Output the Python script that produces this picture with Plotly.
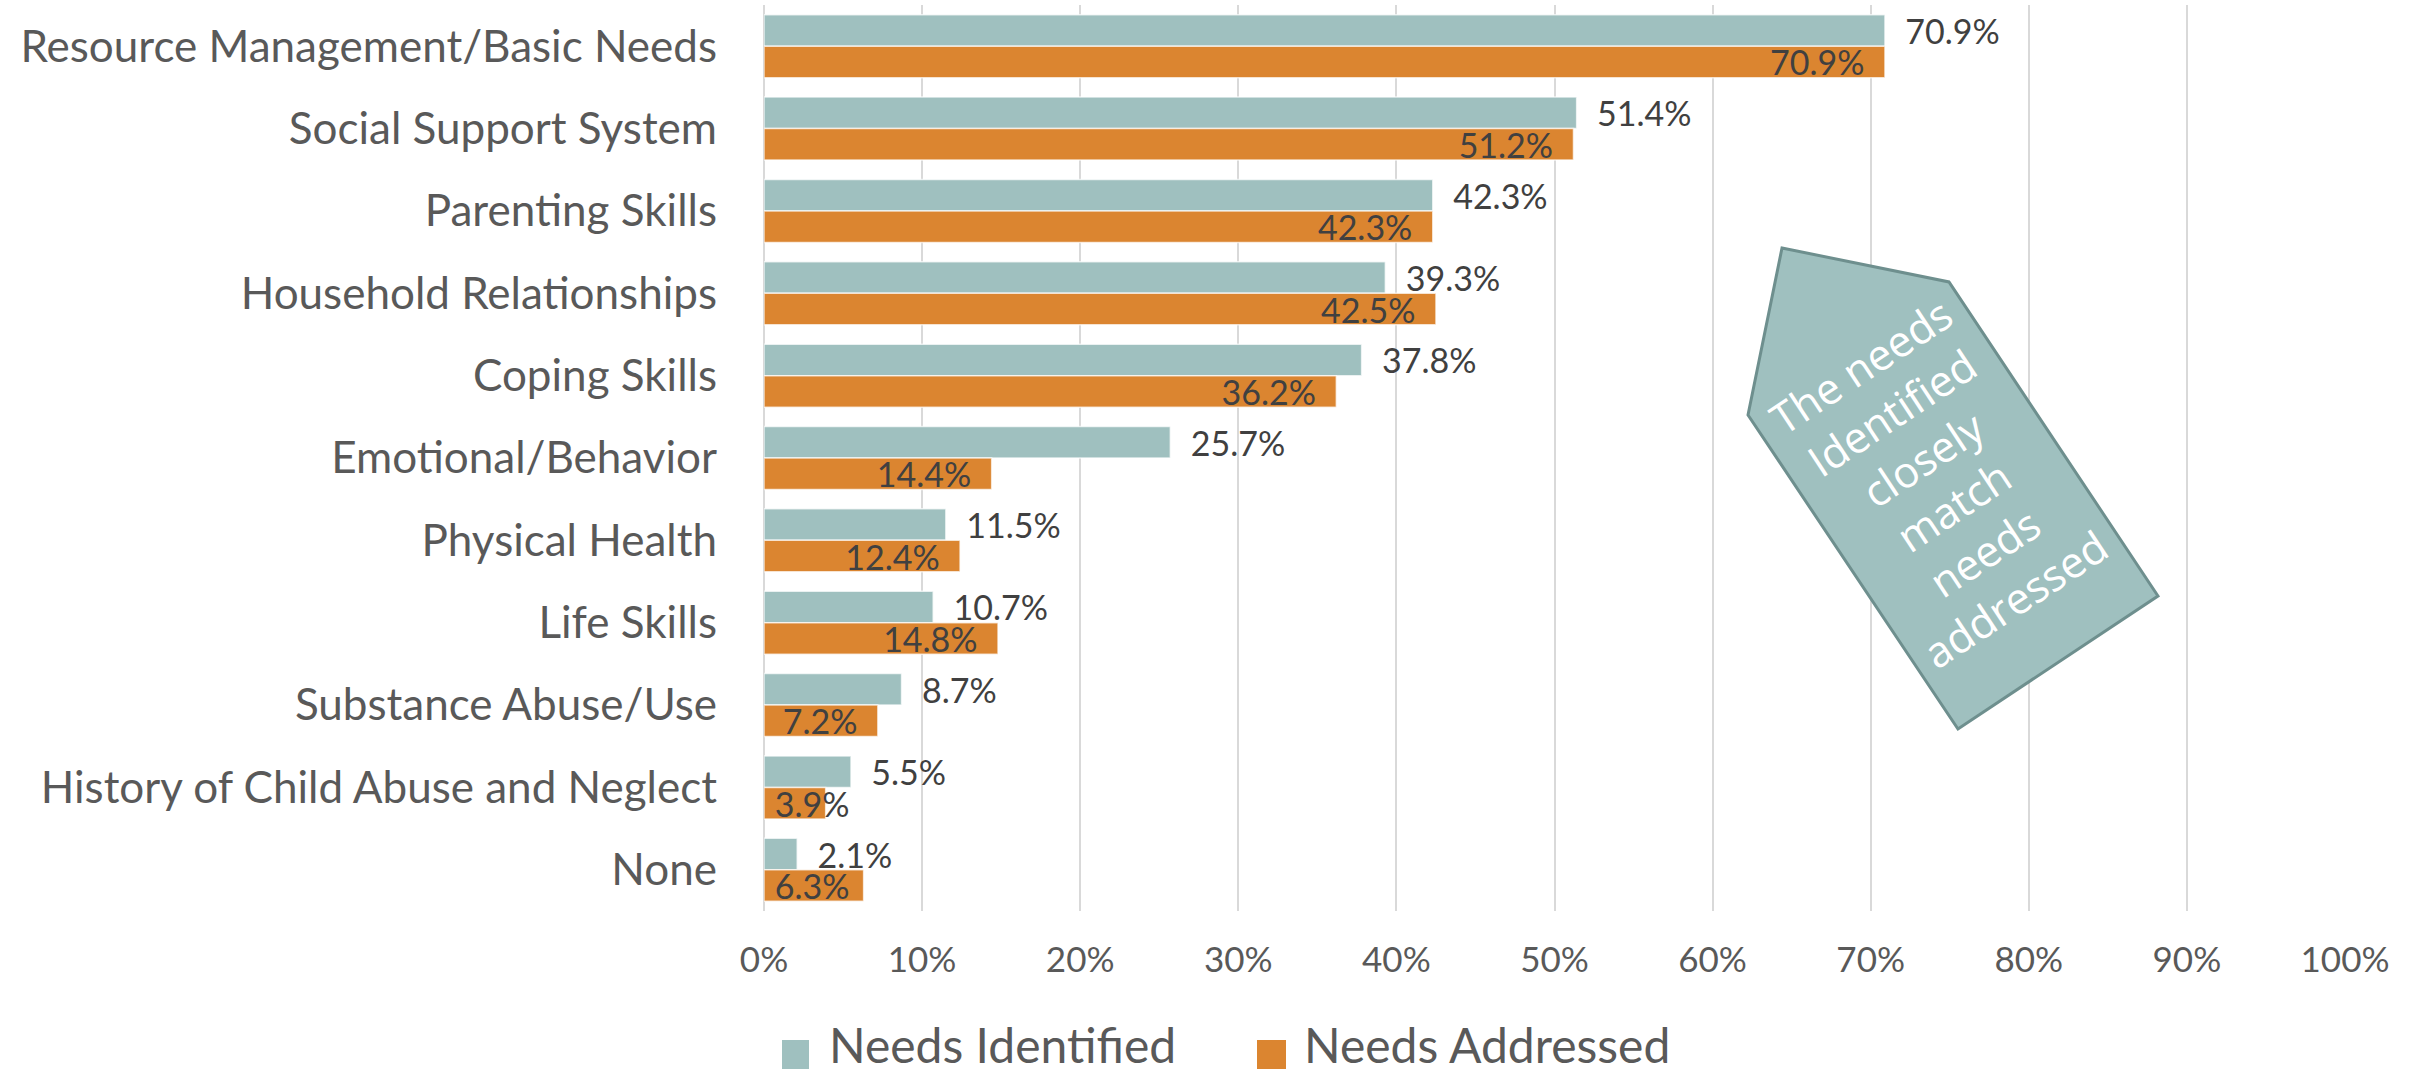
import plotly.graph_objects as go

categories = ["Resource Management/Basic Needs", "Social Support System", "Parenting Skills",
              "Household Relationships", "Coping Skills", "Emotional/Behavior", "Physical Health",
              "Life Skills", "Substance Abuse/Use", "History of Child Abuse and Neglect", "None"]
needs_identified = [70.9, 51.4, 42.3, 39.3, 37.8, 25.7, 11.5, 10.7, 8.7, 5.5, 2.1]
needs_addressed = [70.9, 51.2, 42.3, 42.5, 36.2, 14.4, 12.4, 14.8, 7.2, 3.9, 6.3]
series_names = ["Needs Identified", "Needs Addressed"]
tick_vals = [i / 10 for i in range(11)]
callout_lines = ["The needs", "Identified", "closely", "match", "needs", "addressed"]

TEAL = "#9FC0BF"
ORANGE = "#DB8530"
FONT = "Lato"
NB = "\u00a0"
LABEL_MIN_END = 0.067  # inside labels never end closer to the axis than this

W, H = 2410, 1075
ML, MR, MT, MB = 764, 65, 5, 164

fig = go.Figure()
fig.add_trace(go.Bar(
    y=categories, x=[v / 100 for v in needs_identified], orientation="h",
    name=series_names[0], offsetgroup="a",
    marker=dict(color=TEAL, line=dict(color="rgba(255,255,255,0.7)", width=1.5)),
    text=[f"{NB}{NB}{v:.1f}%" for v in needs_identified], textposition="outside",
    textangle=0, cliponaxis=False, constraintext="none",
    textfont=dict(family=FONT, size=34, color="#404040"),
))
fig.add_trace(go.Bar(
    y=categories, x=[v / 100 for v in needs_addressed], orientation="h",
    name=series_names[1], offsetgroup="b",
    marker=dict(color=ORANGE, line=dict(color="rgba(255,255,255,0.7)", width=1.5)),
))
# transparent label carrier for the "inside end" labels of the addressed series
fig.add_trace(go.Bar(
    y=categories, x=[max(v / 100, LABEL_MIN_END) for v in needs_addressed], orientation="h",
    name=series_names[1] + " labels", offsetgroup="b", showlegend=False, hoverinfo="skip",
    marker=dict(color="rgba(0,0,0,0)", line=dict(width=0)),
    text=[f"{v:.1f}%{NB}{NB}" for v in needs_addressed], textposition="inside",
    insidetextanchor="end", textangle=0, constraintext="none", cliponaxis=False,
    insidetextfont=dict(family=FONT, size=34, color="#404040"),
))

fig.update_layout(
    width=W, height=H, margin=dict(l=ML, r=MR, t=MT, b=MB),
    paper_bgcolor="white", plot_bgcolor="white",
    barmode="group", bargap=0.235, bargroupgap=0,
    showlegend=False,
    font=dict(family=FONT, color="#595959"),
    xaxis=dict(range=[0, 1], tickvals=tick_vals, tickformat=".0%",
               showgrid=True, gridcolor="#D9D9D9", gridwidth=2,
               zeroline=True, zerolinecolor="#D9D9D9", zerolinewidth=2,
               showline=False, ticks="", ticklabelstandoff=25,
               tickfont=dict(family=FONT, size=35, color="#595959")),
    yaxis=dict(autorange="reversed", showgrid=False, ticks="", showline=False,
               ticklabelstandoff=46,
               tickfont=dict(family=FONT, size=44, color="#595959")),
)

# callout pentagon (x in axis units, y in paper units)
px = [(1782, 248), (1949, 282), (2158, 596), (1958, 729), (1748, 415)]
pw, ph = W - ML - MR, H - MT - MB
pts = [((x - ML) / pw, (MT + ph - y) / ph) for x, y in px]
path = "M " + " L ".join(f"{a:.4f},{b:.4f}" for a, b in pts) + " Z"
fig.add_shape(type="path", path=path, xref="x", yref="paper",
              fillcolor=TEAL, line=dict(color="#6E8F8E", width=3), layer="above")
fig.add_annotation(x=(1938 - ML) / pw, y=(MT + ph - 482) / ph, xref="x", yref="paper",
                   text="<br>".join(callout_lines), showarrow=False, textangle=-33.5,
                   font=dict(family="Open Sans", size=43, color="white"),
                   xanchor="center", yanchor="middle", align="center")

# legend drawn manually
leg_y = (MT + ph - 1044) / ph
legend_items = [(782, 809, 828, series_names[0], TEAL), (1257, 1286, 1303, series_names[1], ORANGE)]
for x0, x1, tx, name, col in legend_items:
    fig.add_shape(type="rect", xref="paper", yref="paper",
                  x0=(x0 - ML) / pw, x1=(x1 - ML) / pw,
                  y0=(MT + ph - 1069) / ph, y1=(MT + ph - 1040) / ph,
                  fillcolor=col, line=dict(width=0))
    fig.add_annotation(x=(tx - ML) / pw, y=leg_y, xref="paper", yref="paper",
                       text=name, showarrow=False, xanchor="left", yanchor="middle",
                       borderpad=0, font=dict(family=FONT, size=48, color="#595959"))

fig.write_html("out.html", config={"displayModeBar": False},
               post_script="document.body.style.margin='0';document.body.style.overflow='hidden';")
